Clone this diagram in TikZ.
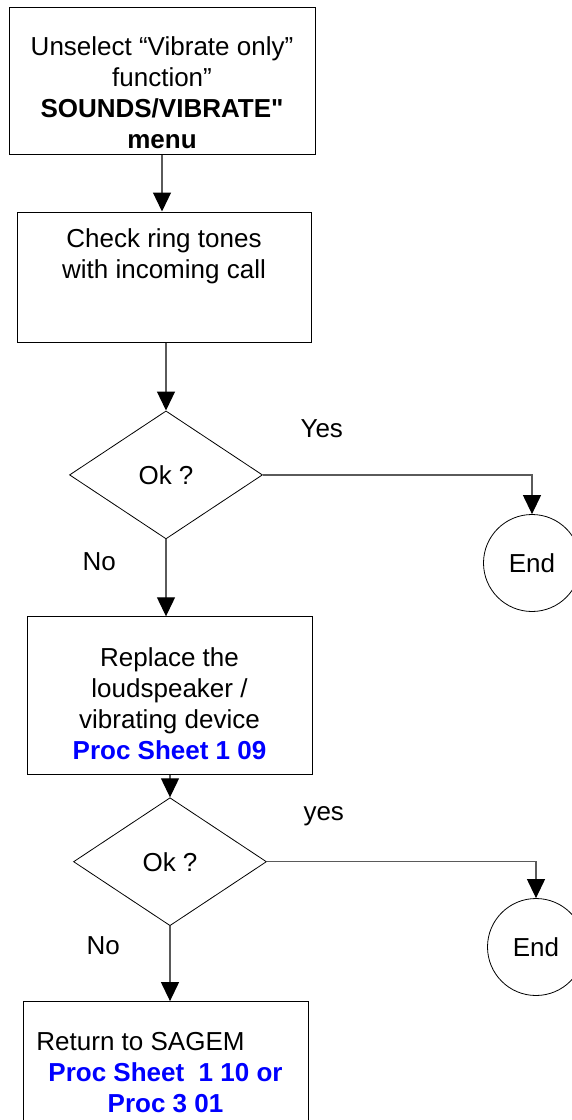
\documentclass[tikz,border=0pt]{standalone}
\usepackage{fontspec}
\setmainfont{Liberation Sans}[Ligatures=TeXOff]
\usetikzlibrary{shapes.geometric, arrows.meta, positioning}
\definecolor{procblue}{HTML}{0000FF}
\definecolor{linegray}{HTML}{5A5A5A}

\begin{document}
\begin{tikzpicture}[
    x=1pt, y=-1pt,
    stepbox/.style={draw, line width=1pt, inner sep=0pt, align=center, font=\fontsize{26}{31}\selectfont},
    check/.style={draw, diamond, line width=0.8pt, inner sep=0pt, minimum width=193pt, minimum height=128pt, font=\fontsize{26}{31}\selectfont},
    stop/.style={draw, circle, line width=0.8pt, inner sep=0pt, minimum size=97pt, font=\fontsize{26}{31}\selectfont},
    arrow/.style={linegray, line width=1.2pt, -{Triangle[length=19pt, width=18pt, color=black]}},
    answer/.style={font=\fontsize{26}{31}\selectfont}
  ]
    \clip (0,0) rectangle (572,1120);

    % Steps and checks
    \node[stepbox, minimum width=306pt, text height=141pt, text depth=6pt] (unsel) at (162,80.5)
      {Unselect “Vibrate only”\\function”\\\textbf{SOUNDS/VIBRATE"}\\\textbf{menu}};
    \node[stepbox, minimum width=294pt, text height=66pt, text depth=64pt, below=57pt of unsel, xshift=2pt] (ring)
      {Check ring tones\\with incoming call};
    \node[check, below=68pt of ring, xshift=2pt] (ok1) {Ok ?};
    \node[stop] (end1) at (532,563) {End};
    \node[stepbox, minimum width=285pt, text height=143pt, text depth=15pt, below=77pt of ok1, xshift=3.5pt] (repl)
      {Replace the\\loudspeaker /\\vibrating device\\\textcolor{procblue}{\textbf{Proc Sheet 1 09}}};
    \node[check, below=22pt of repl, xshift=0.5pt] (ok2) {Ok ?};
    \node[stop] (end2) at (536,947) {End};
    \node[stepbox, minimum width=285pt, text height=111pt, text depth=22pt, below=75pt of ok2, xshift=-4.5pt] (back)
      {Return to SAGEM\hspace*{50pt}\\\textcolor{procblue}{\textbf{Proc Sheet\ \ 1 10 or}}\\\textcolor{procblue}{\textbf{Proc 3 01}}};

    \draw[arrow] (unsel.south) -- (unsel.south |- ring.north);
    \draw[arrow] (ring.south -| ok1.north) -- (ok1.north);
    \draw[arrow] (ok1.south) -- (ok1.south |- repl.north);
    \draw[arrow] (ok1.east) -| (end1.north);
    \draw[arrow] (repl.south -| ok2.north) -- (ok2.north);
    \draw[arrow] (ok2.south) -- (ok2.south |- back.north);
    \draw[arrow] (ok2.east) -| (end2.north);

    % Answers
    \node[answer, anchor=base west] (yes1) at (297,437) {Yes};
    \node[answer, anchor=base west] (no1) at (79,570) {No};
    \node[answer, anchor=base west] (yes2) at (300,820) {yes};
    \node[answer, anchor=base west] (no2) at (83,954) {No};
  \end{tikzpicture}
\end{document}
